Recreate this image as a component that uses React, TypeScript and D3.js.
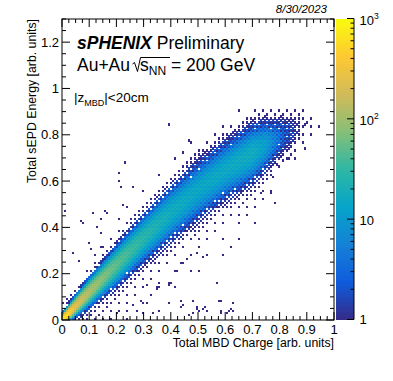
import React, { useMemo } from 'react';
import * as d3 from 'd3';

// ---- data ----
// band profile (vertical slices of the 2D histogram)
const PROFILE_X = [0.0, 0.02, 0.05, 0.1, 0.15, 0.2, 0.3, 0.4, 0.5, 0.6, 0.7, 0.75, 0.8, 0.85, 0.9, 1.0];
const RIDGE_Y = [0.0, 0.022, 0.058, 0.12, 0.18, 0.24, 0.355, 0.465, 0.565, 0.65, 0.725, 0.76, 0.79, 0.815, 0.84, 0.88];
const PEAK_COUNT = [900, 600, 250, 120, 75, 50, 28, 18, 15, 16, 18, 12, 4, 1.0, 0.12, 0.0005];
const SIGMA_UP = [0.009, 0.012, 0.017, 0.023, 0.027, 0.032, 0.041, 0.049, 0.051, 0.051, 0.05, 0.045, 0.04, 0.04, 0.04, 0.04];
const SIGMA_DOWN = [0.009, 0.012, 0.015, 0.023, 0.029, 0.036, 0.043, 0.052, 0.056, 0.055, 0.056, 0.05, 0.04, 0.04, 0.04, 0.04];

// isolated single-count cells
const OUTLIER_X = [0.397, 0.468, 0.444, 0.228, 0.213, 0.207, 0.219, 0.26, 0.225, 0.115, 0.158, 0.168, 0.143, 0.207, 0.069, 0.076, 0.128, 0.146, 0.097, 0.042, 0.109, 0.143, 0.066, 0.011,
  0.893, 0.893, 0.869, 0.86, 0.838, 0.811, 0.789, 0.777, 0.765, 0.783, 0.728, 0.654, 0.618,
  0.569, 0.63, 0.575, 0.507, 0.519, 0.495, 0.458, 0.44, 0.422, 0.397, 0.36, 0.348, 0.44, 0.446, 0.483, 0.495, 0.519, 0.532, 0.36, 0.311, 0.275, 0.581, 0.606, 0.63, 0.618,
  0.44, 0.495, 0.507, 0.526, 0.483, 0.581, 0.397, 0.336, 0.299, 0.391, 0.403, 0.348, 0.311, 0.33, 0.287, 0.262, 0.238, 0.201, 0.581, 0.611, 0.464];
const OUTLIER_Y = [0.842, 0.778, 0.72, 0.677, 0.634, 0.6, 0.58, 0.58, 0.497, 0.464, 0.472, 0.461, 0.435, 0.439, 0.429, 0.42, 0.4, 0.374, 0.334, 0.291, 0.31, 0.317, 0.252, 0.468,
  0.842, 0.742, 0.85, 0.7, 0.7, 0.691, 0.67, 0.62, 0.55, 0.511, 0.55, 0.457, 0.317,
  0.161, 0.075, 0.086, 0.216, 0.273, 0.288, 0.267, 0.245, 0.216, 0.158, 0.158, 0.144, 0.086, 0.065, 0.079, 0.058, 0.05, 0.036, 0.036, 0.072, 0.036, 0.036, 0.029, 0.036, 0.05,
  0.058, 0.05, 0.036, 0.058, 0.029, 0.086, 0.072, 0.029, 0.029, 0.151, 0.158, 0.13, 0.151, 0.108, 0.086, 0.065, 0.043, 0.029, 0.029, 0.036, 0.022];

const X_TICKS = [0, 0.1, 0.2, 0.3, 0.4, 0.5, 0.6, 0.7, 0.8, 0.9, 1];
const X_TICK_LABELS = ['0', '0.1', '0.2', '0.3', '0.4', '0.5', '0.6', '0.7', '0.8', '0.9', '1'];
const Y_TICKS = [0, 0.2, 0.4, 0.6, 0.8, 1.0, 1.2];
const Y_TICK_LABELS = ['0', '0.2', '0.4', '0.6', '0.8', '1', '1.2'];
const Z_TICKS = [1, 10, 100, 1000];
const Z_TICK_BASE = ['1', '10', '10', '10'];
const Z_TICK_EXP = ['', '', '2', '3'];

// ROOT kBird palette
const BIRD_STOPS = [0.0, 0.125, 0.25, 0.375, 0.5, 0.625, 0.75, 0.875, 1.0];
const BIRD_R = [0.2082, 0.0592, 0.078, 0.0232, 0.1802, 0.5301, 0.8186, 0.9956, 0.9764];
const BIRD_G = [0.1664, 0.3599, 0.5041, 0.6419, 0.7178, 0.7492, 0.7328, 0.7862, 0.9832];
const BIRD_B = [0.5293, 0.8684, 0.8385, 0.7914, 0.6425, 0.4662, 0.3499, 0.1968, 0.0539];

const FONT = '"Liberation Sans", Arial, Helvetica, sans-serif';
const NX = 136;
const NY = 150;

// ordered (Bayer) dither threshold, deterministic
function bayer8(i: number, j: number) {
  const c = i ^ j;
  let v = 0;
  for (let b = 0; b < 3; b++) {
    v |= ((c >> b) & 1) << (2 * (2 - b) + 1);
    v |= ((j >> b) & 1) << (2 * (2 - b));
  }
  return (v + 0.5) / 64;
}

export default function App() {
  const x = d3.scaleLinear().domain([0, 1]).range([62, 334]);
  const y = d3.scaleLinear().domain([0, 1.3]).range([320, 19]);
  const zFrac = d3.scaleLog().domain([1, 1000]).range([0, 1]).clamp(true);
  const bird = d3
    .scaleLinear<string>()
    .domain(BIRD_STOPS)
    .range(BIRD_STOPS.map((_, i) => d3.rgb(BIRD_R[i] * 255, BIRD_G[i] * 255, BIRD_B[i] * 255).toString()))
    .interpolate(d3.interpolateRgb);
  const color = (c: number) => bird(zFrac(c));
  const zY = d3.scaleLog().domain([1, 1000]).range([319.5, 18.5]);

  const cells = useMemo(() => {
    const ridge = d3.scaleLinear().domain(PROFILE_X).range(RIDGE_Y).clamp(true);
    const logPeak = d3.scaleLinear().domain(PROFILE_X).range(PEAK_COUNT.map(Math.log10)).clamp(true);
    const sUp = d3.scaleLinear().domain(PROFILE_X).range(SIGMA_UP).clamp(true);
    const sDn = d3.scaleLinear().domain(PROFILE_X).range(SIGMA_DOWN).clamp(true);
    const bw = 1 / NX;
    const bh = 1.3 / NY;
    const grid = new Map<string, number>();
    for (let i = 0; i < NX; i++) {
      const xc = (i + 0.5) * bw;
      const c = ridge(xc);
      const p = Math.pow(10, logPeak(xc));
      const su = sUp(xc);
      const sd = sDn(xc);
      for (let j = 0; j < NY; j++) {
        const yc = (j + 0.5) * bh;
        const d = yc - c;
        const s = d > 0 ? su : sd;
        const core = p * Math.exp((-d * d) / (2 * s * s));
        const tk = d > 0 ? 2.5 : 3;
        const ta = d > 0 ? 0.003 : 0.006;
        const tail = p * ta * Math.exp((-d * d) / (2 * tk * tk * s * s));
        const lam = core + tail;
        const occ = 1 - Math.exp(-lam);
        const t1 = bayer8(i & 7, j & 7);
        if (occ > t1) {
          const t2 = bayer8((i * 3 + 5) & 7, (j * 5 + 2) & 7);
          const n = Math.max(1, lam + Math.sqrt(3 * lam) * (2 * t2 - 1) * 0.7);
          grid.set(i + ',' + j, n);
        }
      }
    }
    OUTLIER_X.forEach((ox, k) => {
      const i = Math.floor(ox / bw);
      const j = Math.floor(OUTLIER_Y[k] / bh);
      const key = i + ',' + j;
      if (!grid.has(key)) grid.set(key, 1);
    });
    const out: { x0: number; x1: number; y0: number; y1: number; n: number }[] = [];
    grid.forEach((n, key) => {
      const [i, j] = key.split(',').map(Number);
      out.push({ x0: i * bw, x1: (i + 1) * bw, y0: j * bh, y1: (j + 1) * bh, n });
    });
    return out;
  }, []);

  const xMinor = d3.range(0, 1.0001, 0.025);
  const yMinor = d3.range(0, 1.3001, 0.05);
  const zMinor: number[] = [];
  [1, 10, 100].forEach((dec) => {
    for (let m = 2; m <= 9; m++) zMinor.push(dec * m);
  });
  const bands = d3.range(0, 120);

  return (
    <svg width={393} height={381} style={{ position: 'absolute', left: 0, top: 0, background: '#fff' }} fontFamily={FONT}>
      <rect x={0} y={0} width={393} height={381} fill="#fff" />
      {/* histogram cells */}
      <g shapeRendering="crispEdges">
        {cells.map((c, k) => (
          <rect
            key={k}
            x={x(c.x0)}
            y={y(c.y1)}
            width={x(c.x1) - x(c.x0) + 0.4}
            height={y(c.y0) - y(c.y1) + 0.4}
            fill={color(c.n)}
          />
        ))}
      </g>
      {/* frame */}
      <rect x={62} y={19} width={272} height={301} fill="none" stroke="#000" strokeWidth={1} />
      {/* ticks */}
      <g stroke="#000" strokeWidth={1}>
        {xMinor.map((v, k) => {
          const major = k % 4 === 0;
          const L = major ? 8 : 4;
          return (
            <g key={'xt' + k}>
              <line x1={x(v)} x2={x(v)} y1={320} y2={320 - L} />
              <line x1={x(v)} x2={x(v)} y1={19} y2={19 + L} />
            </g>
          );
        })}
        {yMinor.map((v, k) => {
          const major = k % 4 === 0;
          const L = major ? 8 : 4;
          return (
            <g key={'yt' + k}>
              <line x1={62} x2={62 + L} y1={y(v)} y2={y(v)} />
              <line x1={334} x2={334 - L} y1={y(v)} y2={y(v)} />
            </g>
          );
        })}
      </g>
      {/* tick labels */}
      <g fontSize={13} fill="#000">
        {X_TICKS.map((v, k) => (
          <text key={'xl' + k} x={x(v)} y={334} textAnchor="middle">
            {X_TICK_LABELS[k]}
          </text>
        ))}
        {Y_TICKS.map((v, k) => (
          <text key={'yl' + k} x={59} y={y(v) + 4.6} textAnchor="end">
            {Y_TICK_LABELS[k]}
          </text>
        ))}
      </g>
      {/* axis titles */}
      <text x={334} y={347} textAnchor="end" fontSize={12.3}>
        Total MBD Charge [arb. units]
      </text>
      <text transform="translate(36,19) rotate(-90)" textAnchor="end" fontSize={12.3}>
        Total sEPD Energy [arb. units]
      </text>
      {/* colour bar */}
      <g shapeRendering="crispEdges">
        {bands.map((b) => {
          const f0 = b / 120;
          const f1 = (b + 1) / 120;
          const y0 = 319.5 - f0 * 301;
          const y1 = 319.5 - f1 * 301;
          return <rect key={'cb' + b} x={336} y={y1} width={18} height={y0 - y1 + 0.5} fill={bird((f0 + f1) / 2)} />;
        })}
      </g>
      <g stroke="#000" strokeWidth={1}>
        <line x1={354} x2={354} y1={18.5} y2={319.5} />
        {Z_TICKS.map((v, k) => (
          <line key={'zt' + k} x1={354} x2={347} y1={zY(v)} y2={zY(v)} />
        ))}
        {zMinor.map((v, k) => (
          <line key={'zm' + k} x1={354} x2={350.5} y1={zY(v)} y2={zY(v)} />
        ))}
      </g>
      <g fontSize={13}>
        {Z_TICKS.map((v, k) => (
          <text key={'zl' + k} x={359.5} y={zY(v) + (k === 0 ? 4 : 6)}>
            {Z_TICK_BASE[k]}
            {Z_TICK_EXP[k] && (
              <tspan fontSize={8.5} dy={-6}>
                {Z_TICK_EXP[k]}
              </tspan>
            )}
          </text>
        ))}
      </g>
      {/* date */}
      <text x={327} y={13} textAnchor="end" fontSize={11.5} fontStyle="italic">
        8/30/2023
      </text>
      {/* labels */}
      <text x={77} y={48.5} fontSize={17.5}>
        <tspan fontWeight="bold" fontStyle="italic">sPHENIX</tspan>
        <tspan> Preliminary</tspan>
      </text>
      <text x={77} y={71} fontSize={17.5}>
        Au+Au
      </text>
      <path d="M132.5,64 L134.5,62.5 L137.5,71.5 L140.5,57.5 L170,57.5" fill="none" stroke="#000" strokeWidth={1} />
      <text x={140} y={71} fontSize={17.5}>
        s<tspan fontSize={12} dy={4}>NN</tspan>
        <tspan dy={-4}> = 200 GeV</tspan>
      </text>
      <text x={74} y={102} fontSize={13.5}>
        |z<tspan fontSize={9} dy={4}>MBD</tspan>
        <tspan dy={-4}>|&lt;20cm</tspan>
      </text>
    </svg>
  );
}
